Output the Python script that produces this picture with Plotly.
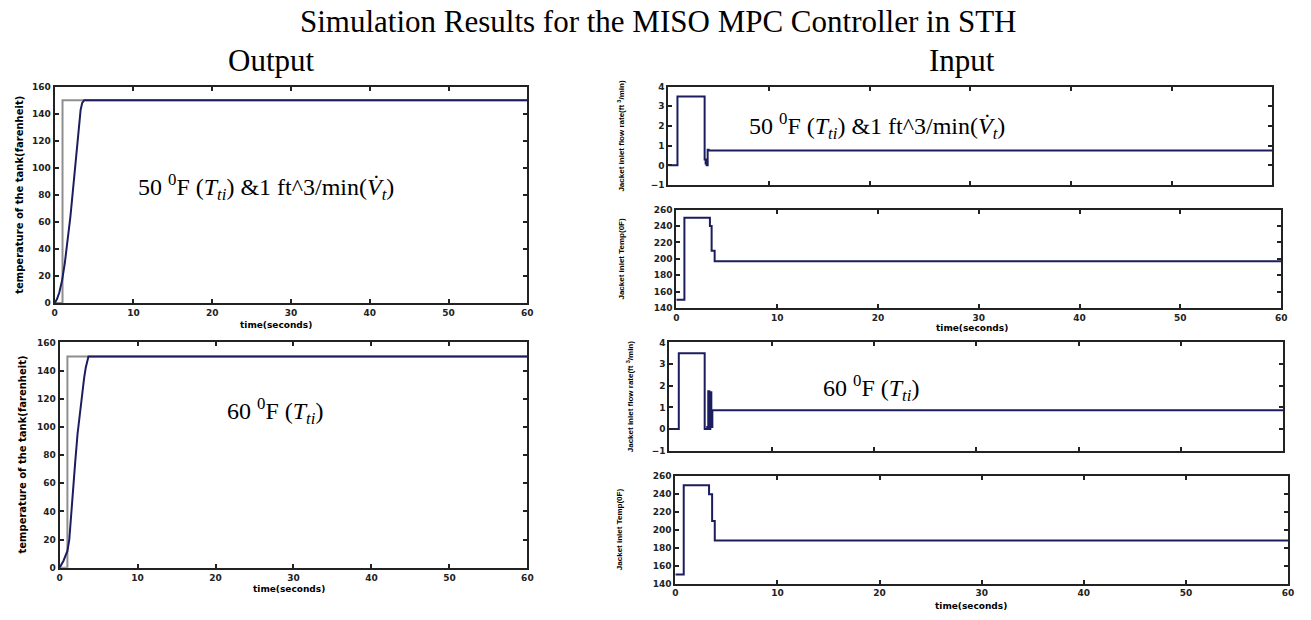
import plotly.graph_objects as go

# ---- data -------------------------------------------------------------
# Output: tank temperature (F) vs time (s)
t_out_50 = [0, 0.3, 0.6, 0.95, 1.3, 1.65, 2.0, 2.3, 2.6, 2.9, 3.1, 3.3, 3.5, 3.75, 60]
y_out_50 = [0, 3, 8, 17, 30, 46, 64, 82, 100, 118, 131, 143, 148, 150, 150]
t_out_60 = [0, 0.5, 1.0, 1.24, 1.45, 1.66, 2.0, 2.3, 2.6, 2.93, 3.15, 3.35, 3.7, 60]
y_out_60 = [0, 5, 12, 20, 35, 53, 75, 95, 110, 125, 135, 142, 150, 150]
t_setpoint = [0, 1, 1, 60]
y_setpoint = [0, 0, 150, 150]

# Input: jacket inlet flow rate (ft^3/min), step signals
t_flow_50 = [0, 0.9, 3.6, 3.7, 3.8, 3.9, 4.0, 60]
u_flow_50 = [0, 3.5, 0.3, 0.1, 0.0, 0.8, 0.75, 0.75]
t_flow_60 = [0, 0.92, 3.45, 3.7, 3.8, 3.9, 4.0, 4.1, 4.2, 60]
u_flow_60 = [0, 3.5, 0.0, 0.1, 1.75, 0.0, 1.7, 0.1, 0.87, 0.87]

# Input: jacket inlet temperature (F), step signals
t_temp_50 = [0, 0.8, 3.33, 3.5, 3.8, 60]
u_temp_50 = [150, 250, 240, 210, 197, 197]
t_temp_60 = [0, 0.82, 3.3, 3.6, 3.86, 60]
u_temp_60 = [150, 250, 240, 210, 188, 188]

time_ticks = [0, 10, 20, 30, 40, 50, 60]
tank_ticks = [0, 20, 40, 60, 80, 100, 120, 140, 160]
flow_ticks = [-1, 0, 1, 2, 3, 4]
jtemp_ticks = [140, 160, 180, 200, 220, 240, 260]

# ---- layout helpers ----------------------------------------------------
W, H = 1311, 620


def fx(x):
    return x / W


def fy(y):
    return 1 - y / H


# panel boxes in pixels: (left, right, top, bottom)
boxes = {
    "out50": (52, 528, 83, 303),
    "out60": (57, 528, 343, 572),
    "flow50": (670, 1278, 83, 183),
    "temp50": (678, 1287, 208, 308),
    "flow60": (671, 1289, 343, 453),
    "temp60": (677, 1294, 479, 588),
}

NAVY = "#1c1d5e"
GRAY = "#8e8e8e"
FRAME = "#222222"
tickfont = dict(family="DejaVu Sans", size=9, color="#222222", weight="bold")

fig = go.Figure()
layout = dict(
    width=W, height=H, margin=dict(l=0, r=0, t=0, b=0),
    paper_bgcolor="white", plot_bgcolor="white", showlegend=False,
)

panels = [
    ("out50", [0, 60], [0, 160], tank_ticks, True),
    ("out60", [0, 60], [0, 160], tank_ticks, True),
    ("flow50", [0, 60], [-1, 4], flow_ticks, False),
    ("temp50", [0, 60], [140, 260], jtemp_ticks, True),
    ("flow60", [0, 60], [-1, 4], flow_ticks, False),
    ("temp60", [0, 60], [140, 260], jtemp_ticks, True),
]
axis_ids = {}
for i, (key, xr, yr, yt, show_x) in enumerate(panels, start=1):
    l, r, t, b = boxes[key]
    sfx = "" if i == 1 else str(i)
    axis_ids[key] = ("x" + sfx, "y" + sfx)
    common = dict(
        showline=True, linecolor=FRAME, linewidth=2, mirror="ticks",
        ticks="inside", ticklen=4, tickwidth=1.5, tickcolor=FRAME,
        showgrid=False, zeroline=False, tickfont=tickfont, fixedrange=True,
    )
    layout["xaxis" + sfx] = dict(
        common, domain=[fx(l), fx(r)], range=xr, tickvals=time_ticks,
        showticklabels=show_x, anchor="y" + sfx,
    )
    layout["yaxis" + sfx] = dict(
        common, domain=[fy(b), fy(t)], range=yr, tickvals=yt,
        anchor="x" + sfx,
    )


def add_line(key, xs, ys, color, width, shape="linear"):
    xa, ya = axis_ids[key]
    fig.add_trace(go.Scatter(
        x=xs, y=ys, mode="lines", xaxis=xa, yaxis=ya,
        line=dict(color=color, width=width, shape=shape),
        hoverinfo="skip",
    ))


add_line("out50", t_setpoint, y_setpoint, GRAY, 2)
add_line("out50", t_out_50, y_out_50, NAVY, 2)
add_line("out60", t_setpoint, y_setpoint, GRAY, 2)
add_line("out60", t_out_60, y_out_60, NAVY, 2)
add_line("flow50", t_flow_50, u_flow_50, NAVY, 2, "hv")
add_line("temp50", t_temp_50, u_temp_50, NAVY, 2, "hv")
add_line("flow60", t_flow_60, u_flow_60, NAVY, 2, "hv")
add_line("temp60", t_temp_60, u_temp_60, NAVY, 2, "hv")

annotations = []


def text(x, y, s, size, family="Liberation Serif", angle=0, bold=False):
    annotations.append(dict(
        x=fx(x), y=fy(y), xref="paper", yref="paper", text=s,
        showarrow=False, xanchor="center", yanchor="middle", textangle=angle,
        font=dict(family=family, size=size, color="black",
                  weight="bold" if bold else "normal"),
    ))


# headings
text(660, 17, "Simulation Results for the MISO MPC Controller in STH", 31)
text(270, 56, "Output", 31)
text(966, 56, "Input", 31)

# case labels inside panels
case_both = ("50 <sup>0</sup>F (<i>T</i><sub><i>ti</i></sub>) &amp;1 "
             "ft^3/min(<i>V̇</i><sub><i>t</i></sub>)")
case_temp = "60 <sup>0</sup>F (<i>T</i><sub><i>ti</i></sub>)"
text(265, 185, case_both, 24)
text(880, 123, case_both, 24)
text(274, 413, case_temp, 24)
text(874, 389, case_temp, 24)

# axis titles
sans = "DejaVu Sans"
text(17, 193, "temperature of the tank(farenheit)", 10, sans, -90, True)
text(20, 457, "temperature of the tank(farenheit)", 10, sans, -90, True)
text(275, 325, "time(seconds)", 9, sans, 0, True)
text(288, 594, "time(seconds)", 9, sans, 0, True)
text(976, 328, "time(seconds)", 9, sans, 0, True)
text(975, 611, "time(seconds)", 9, sans, 0, True)
flow_title = "Jacket inlet flow rate(ft <sup>3</sup>/min)"
temp_title = "Jacket inlet Temp(0F)"
text(622, 133, flow_title, 8, "Liberation Sans", -90, True)
text(623, 258, temp_title, 8, "Liberation Sans", -90, True)
text(631, 398, flow_title, 8, "Liberation Sans", -90, True)
text(621, 533, temp_title, 8, "Liberation Sans", -90, True)

layout["annotations"] = annotations
fig.update_layout(**layout)
fig.write_html("out.html")
